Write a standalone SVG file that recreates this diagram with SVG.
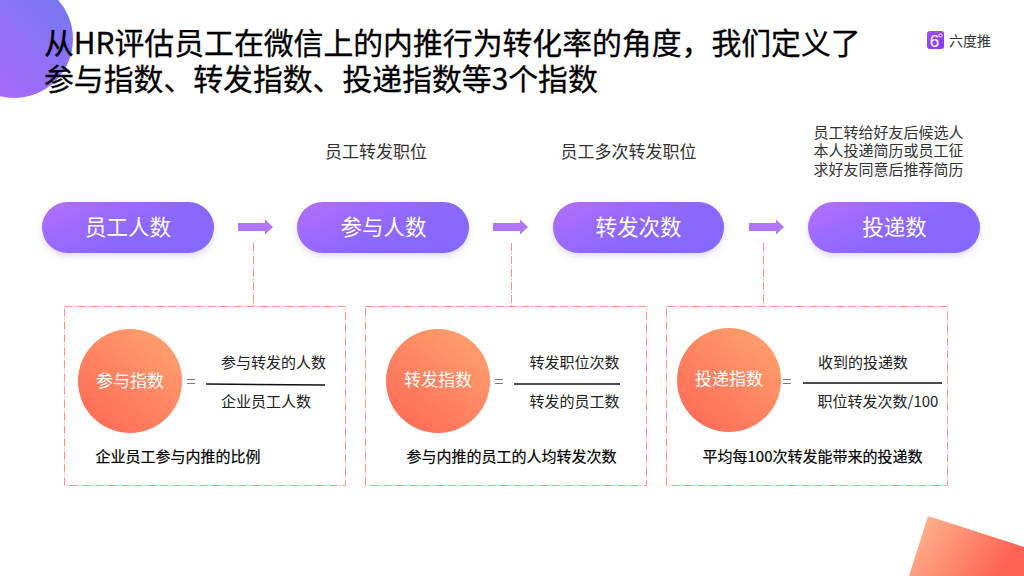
<svg xmlns="http://www.w3.org/2000/svg" width="1024" height="576" viewBox="0 0 1024 576">
<defs>
<linearGradient id="gPill" x1="0" y1="0" x2="1" y2="0.6"><stop offset="0" stop-color="#b36fff"/><stop offset="0.65" stop-color="#8c68fd"/><stop offset="1" stop-color="#8567fd"/></linearGradient>
<linearGradient id="gBlob" x1="0" y1="1" x2="1" y2="0"><stop offset="0" stop-color="#b866fb"/><stop offset="1" stop-color="#6d79f2"/></linearGradient>
<linearGradient id="gCircle" x1="0.2" y1="0.9" x2="0.85" y2="0.1"><stop offset="0" stop-color="#ff6f59"/><stop offset="1" stop-color="#ff9e6c"/></linearGradient>
<linearGradient id="gCorner" x1="0" y1="0" x2="1" y2="0.35"><stop offset="0" stop-color="#ffbd96"/><stop offset="1" stop-color="#ff6352"/></linearGradient>
<linearGradient id="gLogo" x1="0" y1="0" x2="1" y2="1"><stop offset="0" stop-color="#a44df5"/><stop offset="1" stop-color="#7c3cf0"/></linearGradient>
<filter id="sh" x="-10%" y="-20%" width="120%" height="150%"><feDropShadow dx="0" dy="3" stdDeviation="3" flood-color="#8567fd" flood-opacity="0.25"/></filter>
<path id="arrow" d="M0 -4H27V-7.500L35 0L27 7.500V4H0Z" fill="#b077fb"/>
</defs>
<style>
text{font-family:"Noto Sans CJK SC","Noto Sans",sans-serif;text-anchor:middle;fill:#222}
.title{font-size:29.850px;font-weight:400;text-anchor:start;fill:#000;stroke:#000;stroke-width:0.300}
.pill{font-size:21.500px;font-weight:400;fill:#fff}
.note{font-size:17px;fill:#333}
.note3{font-size:15px;fill:#333}
.circ{font-size:17px;fill:#fff}
.frac{font-size:15px;fill:#222}
.desc{font-size:15px;font-weight:400;fill:#000;stroke:#000;stroke-width:0.200}
.eq{font-size:16px;fill:#777}
.dash{fill:none;stroke:#ff9088;stroke-width:1;stroke-dasharray:8 2 1 2}
.rule{stroke:#111;stroke-width:1.500}
</style>
<rect width="1024" height="576" fill="#fff"/>
<circle cx="14" cy="39" r="59" fill="url(#gBlob)"/>
<polygon points="928,516 1024,547 1024,576 909,576" fill="url(#gCorner)"/>
<text class="title" x="44" y="54">从HR评估员工在微信上的内推行为转化率的角度，我们定义了</text>
<text class="title" x="44" y="90">参与指数、转发指数、投递指数等3个指数</text>
<g id="logo">
<rect x="927" y="31" width="17" height="18" rx="3" fill="url(#gLogo)"/>
<text x="934.500" y="47" style="font-size:17px;font-weight:400;fill:#fff;font-family:'Liberation Sans',sans-serif">6</text>
<circle cx="940.500" cy="35.500" r="1.600" fill="none" stroke="#fff" stroke-width="1"/>
<text x="970" y="46" style="font-size:14px;fill:#333">六度推</text>
</g>
<g id="connectors">
<use href="#arrow" x="238" y="227"/>
<use href="#arrow" x="493" y="227"/>
<use href="#arrow" x="749" y="227"/>
<path class="dash" d="M253.500 243V306"/>
<path class="dash" d="M511.500 243V306"/>
<path class="dash" d="M763.500 243V306"/>
</g>
<g id="node-employees"><rect x="42" y="202" width="172" height="51" rx="25.500" fill="url(#gPill)" filter="url(#sh)"/><text class="pill" x="128" y="234.500">员工人数</text></g>
<g id="node-participants"><rect x="297" y="202" width="172" height="51" rx="25.500" fill="url(#gPill)" filter="url(#sh)"/><text class="pill" x="383.500" y="234.500">参与人数</text><text class="note" x="376" y="158">员工转发职位</text></g>
<g id="node-forwards"><rect x="553" y="202" width="171" height="51" rx="25.500" fill="url(#gPill)" filter="url(#sh)"/><text class="pill" x="638.500" y="234.500">转发次数</text><text class="note" x="628.500" y="158">员工多次转发职位</text></g>
<g id="node-applications"><rect x="808" y="202" width="172" height="51" rx="25.500" fill="url(#gPill)" filter="url(#sh)"/><text class="pill" x="894.500" y="234.500">投递数</text>
<text class="note3" x="888.500" y="138">员工转给好友后候选人</text><text class="note3" x="888.500" y="156">本人投递简历或员工征</text><text class="note3" x="888.500" y="175">求好友同意后推荐简历</text></g>
<g id="box-participation">
<rect class="dash" x="64.500" y="306.500" width="281" height="179"/>
<circle cx="130" cy="381" r="52" fill="url(#gCircle)"/><text class="circ" x="130" y="386.500">参与指数</text>
<text class="eq" x="191" y="387">=</text><line class="rule" x1="206" y1="384" x2="325" y2="385"/>
<text class="frac" x="273.500" y="368">参与转发的人数</text><text class="frac" x="266" y="407">企业员工人数</text>
<text class="desc" x="178" y="462">企业员工参与内推的比例</text>
</g>
<g id="box-forward">
<rect class="dash" x="365.500" y="306.500" width="281" height="179"/>
<circle cx="438" cy="381" r="52" fill="url(#gCircle)"/><text class="circ" x="438" y="385.500">转发指数</text>
<text class="eq" x="499" y="387">=</text><line class="rule" x1="514" y1="384" x2="620" y2="384"/>
<text class="frac" x="574.500" y="368">转发职位次数</text><text class="frac" x="574.500" y="407">转发的员工数</text>
<text class="desc" x="511.500" y="462">参与内推的员工的人均转发次数</text>
</g>
<g id="box-application">
<rect class="dash" x="666.500" y="306.500" width="281" height="179"/>
<circle cx="729" cy="380" r="52" fill="url(#gCircle)"/><text class="circ" x="729" y="384.500">投递指数</text>
<text class="eq" x="787" y="387">=</text><line class="rule" x1="803" y1="383" x2="942" y2="383"/>
<text class="frac" x="863" y="368">收到的投递数</text><text class="frac" x="878" y="407">职位转发次数/100</text>
<text class="desc" x="812.500" y="462">平均每100次转发能带来的投递数</text>
</g>
</svg>
